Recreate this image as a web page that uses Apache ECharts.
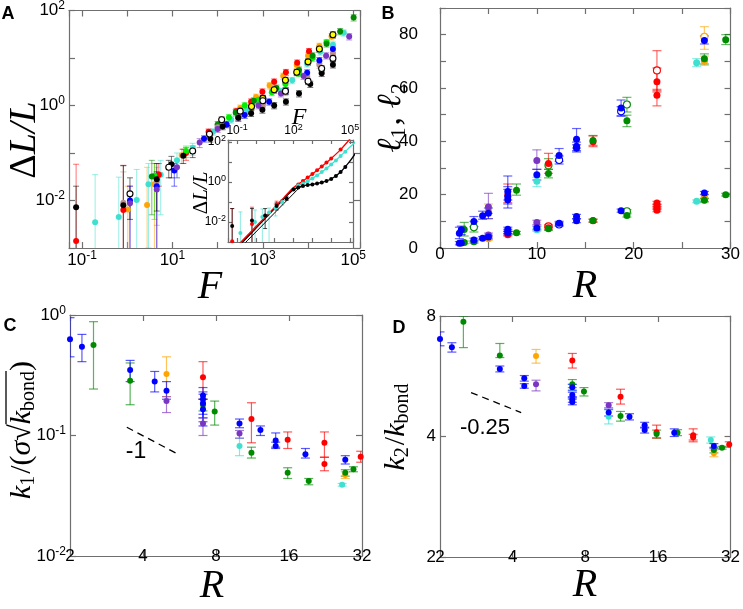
<!DOCTYPE html>
<html><head><meta charset="utf-8">
<script src="https://cdn.jsdelivr.net/npm/echarts@6/dist/echarts.min.js"></script>
<style>html,body{margin:0;padding:0;background:#fff}#c{width:743px;height:609px}</style>
</head><body><div id="c"></div>
<script>
// ---------------- Panel A (main): rows [F, dL/L, low, high] (low/high optional) ----------------
const aBlack = [[0.074,0.0072,1e-4,0.02],[0.82,0.0079,1e-4,0.054],[4.5,0.028,0.006,0.06],[9.5,0.058,0.03,0.085],[17.4,0.087,0.06,0.12],[69,0.2,0.17,0.24],[129,0.363],[288,0.55],[550,0.69],[977,0.81],[1780,1.0],[3240,1.2],[6310,1.78],[11200,2.82],[20000,4.79],[35500,7.24]];
const aOpen = [[1.15,0.0138,0.004,0.03],[8.3,0.05,0.03,0.07],[28,0.11,0.08,0.14],[66,0.25,0.21,0.29],[123,0.5],[316,0.76],[1000,1.26],[3160,2.0],[10000,3.24],[20000,6.0],[35500,9.8]];
const aRed = [[0.074,0.0014,1e-4,0.058],[0.82,0.0063,1e-4,0.055],[5,0.035,0.02,0.06],[20,0.1,0.07,0.13],[63,0.28,0.24,0.32],[257,0.76],[550,1.2],[977,1.95],[1780,3.16],[3240,5.0],[5750,7.9],[10500,13.8]];
const aOrange = [[1.03,0.0065,1e-4,0.02],[2.75,0.008,1e-4,0.05],[4.0,0.022,1e-4,0.06],[16,0.09,0.06,0.12],[120,0.45],[316,0.89],[708,1.51],[1410,2.63],[2820,4.17],[5620,7.08],[10000,11.2],[17800,17.8],[33100,28.2]];
const aYellow = [[562,0.95],[1000,1.41],[1780,2.14],[3160,3.39],[5620,5.0],[10000,8.3],[17800,15.5],[35500,30.9]];
const aLime = [[4.0,0.033,0.004,0.06],[20,0.11,0.08,0.14],[178,0.56],[398,1.0],[794,1.32],[1580,1.9],[3160,2.82],[6310,4.8],[12600,10],[25700,21.4]];
const aDkGreen = [[3.5,0.032,0.005,0.07],[100,0.4],[251,0.71],[631,1.26],[2000,2.34],[6310,5.6],[12600,11.2],[25700,20],[51300,36.3],[102000,70.8]];
const aTurq = [[0.195,0.0035,1e-4,0.035],[0.65,0.0045,1e-4,0.031],[1.62,0.0103,1e-4,0.045],[2.95,0.022,0.001,0.06],[5.5,0.035,0.005,0.07],[12.6,0.07,0.03,0.1],[28,0.126,0.09,0.16],[79,0.28],[200,0.5],[447,0.79],[1000,1.12],[2510,2.0],[4470,3.39],[9550,7.6],[18600,13.5],[35500,19],[61700,33.9]];
const aBlue = [[1.15,0.01,1e-4,0.02],[4.5,0.02,1e-4,0.04],[11,0.043,0.02,0.06],[50,0.2,0.17,0.23],[158,0.4],[398,0.63],[1380,1.2],[3240,2.04],[9550,4.9],[17800,8.9],[35500,15.5]];
const aRosy = [[0.82,0.009,1e-4,0.04],[4.5,0.025,0.003,0.05],[100,0.35],[316,0.63],[1000,1.05],[3160,1.9],[9550,4.0],[17800,7.1],[35500,12.3]];
const aPurple = [[1.15,0.0087,1e-4,0.02],[4.5,0.017,8e-4,0.04],[12.6,0.05,0.03,0.07],[40,0.166,0.13,0.2],[100,0.32],[282,0.56],[800,1.0],[2510,1.78],[7940,4.17],[25100,11.2],[81300,28.2]];
const aRelErr = 0.15;

// ---------------- Panel A inset ----------------
const iRedLine = [[0.1,0.00063],[10,0.055],[31.6,0.17],[100,0.525],[316,1.12],[1000,2.51],[3160,6.03],[10000,15.1],[31600,41.7],[89100,126],[120000,170]];
const iTurqLine = [[0.1,0.00056],[10,0.05],[31.6,0.158],[100,0.479],[316,0.832],[1000,1.51],[3160,3.16],[10000,7.59],[31600,20],[100000,56.2],[200000,105]];
const iBlackLine = [[0.1,0.0005],[10,0.048],[31.6,0.151],[100,0.417],[316,0.631],[1000,0.759],[3160,0.955],[10000,1.41],[31600,3.16],[100000,11.2],[200000,28.2]];
const iFitLine = [[0.1,0.00035],[300,0.75]];
const iRedPts = [[178,0.76],[316,1.12],[562,1.66],[1000,2.51],[1780,3.89],[3160,6.03],[5620,9.55],[10000,15.1],[31600,41.7]];
const iTurqPts = [[178,0.66],[316,0.832],[562,1.1],[1000,1.51],[1780,2.14],[3160,3.16],[5620,4.79],[10000,7.59],[17800,12],[31600,20],[56200,33]];
const iBlackPts = [[100,0.417],[178,0.537],[316,0.631],[562,0.708],[1000,0.759],[1780,0.851],[3160,0.955],[5620,1.12],[10000,1.41],[17800,2.0],[31600,3.16],[56200,5.62]];
const iLowBlack = [[0.055,0.0063,1e-4,0.047],[0.62,0.012,1e-4,0.047],[3.1,0.021,0.0047,0.047],[12.6,0.063,0.04,0.09],[42.7,0.148,0.12,0.18]];
const iLowRed = [[0.055,0.0011,1e-4,0.047],[0.62,0.008,1e-4,0.055],[12.6,0.075,0.05,0.11]];
const iLowTurq = [[0.15,0.0028,1e-4,0.032],[0.9,0.01,1e-4,0.04],[2.2,0.018,1e-4,0.045],[5,0.03,8e-4,0.05],[11,0.05,0.02,0.08],[25,0.1,0.07,0.13]];

// ---------------- Panel B: rows [R, l, low, high] ----------------
const bBlue = [[2.0,5.5,3.5,7.8],[2.2,6.8,5.0,8.2],[3.5,9.9,8.0,11.8],[4.4,12.1,10.8,13.8],[5.0,13.0,11.0,15.0],[7.0,21.2,18.0,27.0],[7.0,19.3,16.5,23.0],[7.0,18.1,15.0,22.0],[10.0,27.5,25.5,29.5],[12.3,34.7,32.5,37.3],[14.1,40.8,37.5,44.8],[14.1,38.2,36.5,39.7],[14.1,37.4,36.0,38.7],[18.7,52.5,49.5,55.5],[27.3,77.8,76.5,79.5],
  [2.0,1.8,1.2,2.4],[2.2,1.9,1.3,2.5],[3.5,3.0,2.3,3.7],[4.4,3.7,3.1,4.3],[5.0,4.1,3.4,4.8],[7.0,7.0,6.2,7.8],[7.0,6.2,5.4,7.0],[7.0,5.6,4.9,6.3],[10.0,7.5,6.8,8.2],[12.3,9.3,8.6,10.0],[14.1,11.8,11.0,12.6],[14.1,10.2,9.5,10.9],[18.7,14.0,13.4,14.6],[27.3,20.6,20.0,21.2]];
const bBlueOpen = [[12.3,33.0,31.5,34.5],[18.7,51.3,49.5,53.0],[12.3,8.8,8.2,9.4]];
const bPurple = [[5.0,15.4,13.0,20.5],[10.0,32.8,29.5,36.8],[5.0,4.9,4.2,5.6],[10.0,9.6,8.8,10.4]];
const bOrange = [[5.0,14.0,11.0,16.5],[27.3,70.0,68.5,72.0],[5.0,3.5,2.9,4.1],[27.3,19.4,18.8,20.2],[27.3,18.0,17.4,18.6]];
const bOrangeOpen = [[27.3,79.2,74.5,83.0]];
const bRed = [[7.0,19.9,17.0,24.0],[11.2,31.7,28.0,35.5],[15.8,39.8,38.0,42.0],[22.4,62.3,58.5,67.5],[22.4,57.3,53.3,59.5],[7.0,5.0,4.5,5.5],[11.2,7.6,7.0,8.2],[15.8,10.2,9.6,10.8],[22.4,16.9,16.3,17.5],[22.4,15.9,15.3,16.5],[22.4,15.0,14.4,15.6],[22.4,14.2,13.6,14.8]];
const bRedOpen = [[22.4,66.6,59.0,74.0],[11.2,8.1,7.5,8.7]];
const bGreen = [[2.5,6.9,4.5,9.6],[7.9,21.7,19.8,24.0],[11.2,27.9,26.3,29.5],[15.8,40.3,38.5,42.2],[19.3,47.7,45.5,49.8],[27.3,71.0,69.0,72.8],[29.5,78.1,76.3,80.0],[2.5,2.1,1.6,2.6],[3.5,2.3,1.8,2.8],[7.9,5.7,5.2,6.2],[11.2,7.2,6.6,7.8],[15.8,10.3,9.8,10.8],[19.3,12.2,11.6,12.8],[27.3,17.9,17.3,18.5],[29.5,20.0,19.5,20.5]];
const bGreenOpen = [[3.5,7.8,6.0,10.0],[11.2,31.0,29.5,33.5],[19.3,53.8,51.0,56.5],[19.3,13.8,13.2,14.4]];
const bTurq = [[10.0,25.0,23.0,26.5],[26.5,69.5,68.0,71.0],[10.0,6.8,6.2,7.4],[26.5,17.5,17.0,18.0]];

// ---------------- Panel C: rows [R, k1, low, high] ----------------
const cBlue = [[2.0,0.63,0.45,0.95],[2.24,0.546,0.41,0.69],[3.54,0.35,0.28,0.42],[4.47,0.28,0.23,0.34],[5.0,0.235,0.2,0.28],[7.07,0.215,0.15,0.25],[7.07,0.2,0.14,0.23],[7.07,0.185,0.13,0.22],[7.07,0.165,0.12,0.2],[10.0,0.126,0.116,0.137],[12.2,0.111,0.1,0.12],[14.1,0.091,0.08,0.105],[14.1,0.082,0.078,0.088],[18.7,0.07,0.065,0.078],[27.3,0.063,0.058,0.068]];
const cGreen = [[2.5,0.564,0.243,0.88],[3.54,0.285,0.18,0.4],[7.07,0.18,0.16,0.2],[7.9,0.158,0.122,0.193],[11.2,0.072,0.065,0.08],[15.8,0.049,0.044,0.054],[19.3,0.042,0.039,0.044],[27.3,0.049,0.046,0.052],[29.5,0.0524,0.05,0.055]];
const cOrange = [[5.0,0.324,0.21,0.45],[27.3,0.047,0.044,0.05]];
const cPurple = [[5.0,0.193,0.155,0.21],[7.07,0.126,0.1,0.14],[10.0,0.104,0.095,0.11]];
const cRed = [[7.07,0.304,0.2,0.41],[11.2,0.137,0.087,0.187],[15.8,0.092,0.078,0.107],[22.4,0.087,0.066,0.107],[22.4,0.058,0.051,0.066],[31.6,0.0667,0.06,0.074]];
const cTurq = [[10.0,0.082,0.068,0.095],[26.5,0.039,0.038,0.04]];
const cSlope = [[3.43,0.117],[5.58,0.070]];

// ---------------- Panel D: rows [R, k2, low, high] ----------------
const dBlue = [[2.0,7.01,6.74,7.3],[2.24,6.68,6.5,6.86],[3.54,5.9,5.8,6.0],[4.47,5.59,5.5,5.68],[4.47,5.35,5.28,5.42],[7.07,5.31,5.22,5.4],[7.07,5.08,5.0,5.16],[7.07,4.95,4.87,5.03],[7.07,4.88,4.8,4.96],[10.0,4.59,4.5,4.68],[12.2,4.48,4.4,4.56],[14.1,4.27,4.2,4.34],[14.1,4.15,4.08,4.22],[18.7,4.09,4.0,4.18],[27.3,3.79,3.74,3.84]];
const dGreen = [[2.5,7.74,6.67,8.0],[3.54,6.37,6.3,6.83],[7.07,5.4,5.3,5.55],[7.9,5.18,5.05,5.3],[11.2,4.5,4.37,4.62],[15.8,4.06,3.97,4.15],[19.3,4.09,4.02,4.16],[27.3,3.7,3.64,3.76],[29.5,3.75,3.72,3.78]];
const dOrange = [[5.0,6.36,6.1,6.6],[27.3,3.63,3.56,3.7]];
const dPurple = [[5.0,5.4,5.2,5.53],[10.0,4.79,4.72,4.86]];
const dRed = [[7.07,6.19,5.93,6.45],[11.2,5.03,4.82,5.25],[15.8,4.1,3.96,4.27],[22.4,4.03,3.88,4.18],[22.4,3.98,3.92,4.05],[31.6,3.82,3.76,3.88]];
const dTurq = [[7.07,5.3,5.2,5.4],[10.0,4.48,4.3,4.66],[26.5,3.92,3.85,3.99]];
const dSlope = [[2.69,5.15],[4.34,4.59]];

// ---------------- styling ----------------
const SANS = '"Liberation Sans", Arial, Helvetica, sans-serif';
const SERIF = '"Liberation Serif", "Times New Roman", serif';
const DSERIF = '"DejaVu Serif", serif';
const FRAME = '#6f6f6f';
const C = { red:'#ff0000', orange:'#ffa500', yellow:'#ffff00', lime:'#00ee00', dkgreen:'#008a00', turq:'#40e0d0', blue:'#0000ff', purple:'#7a36c2', rosy:'#bc8f8f', black:'#000000' };
function rgba(hex, a) { const n = parseInt(hex.slice(1), 16); return 'rgba(' + (n >> 16 & 255) + ',' + (n >> 8 & 255) + ',' + (n & 255) + ',' + a + ')'; }

const RICH17 = { b: { fontSize: 17, fontFamily: SANS, color: '#000' }, s: { fontSize: 12, fontFamily: SANS, color: '#000', padding: [0, 0, 9, 0] } };
const RICH12 = { b: { fontSize: 12, fontFamily: SANS, color: '#000' }, s: { fontSize: 9, fontFamily: SANS, color: '#000', padding: [0, 0, 6, 0] } };

function powFmt(okFn) {
  return function (v) {
    const l = Math.log10(v), e = Math.round(l);
    if (Math.abs(l - e) > 1e-6 || !okFn(e)) return '';
    return '{b|10}{s|' + e + '}';
  };
}
const LINE = { show: true, onZero: false, lineStyle: { color: FRAME, width: 1.2 } };
function ticks(len) { return { show: true, inside: true, length: len, lineStyle: { color: FRAME, width: 1.2 } }; }
function ax(gi, pos, type, min, max, o) {
  o = o || {};
  const a = { gridIndex: gi, position: pos, type: type, min: min, max: max, axisLine: LINE, axisTick: ticks(o.tick || 6), splitLine: { show: false }, minorTick: { show: false } };
  if (type === 'log') a.logBase = o.base || 10;
  if (o.interval) a.interval = o.interval;
  if (o.fmt) a.axisLabel = { show: true, formatter: o.fmt, margin: o.margin == null ? 4 : o.margin, rich: o.rich || RICH17, fontSize: o.fs || 17, fontFamily: SANS, color: '#000', showMinLabel: true, showMaxLabel: true, hideOverlap: false };
  else a.axisLabel = { show: false };
  return a;
}

const A_X = [0.0515, 141000], A_Y = [0.001, 100];
const I_X = [0.033, 144000], I_Y = [0.001, 126];
const xAxis = [
  ax(0, 'bottom', 'log', A_X[0], A_X[1], { fmt: powFmt(e => ((e % 2) + 2) % 2 === 1), margin: 2 }),
  ax(0, 'top', 'log', A_X[0], A_X[1]),
  ax(1, 'top', 'log', I_X[0], I_X[1], { fmt: powFmt(e => e === -1 || e === 2 || e === 5), rich: RICH12, fs: 12, margin: 2, tick: 4 }),
  ax(1, 'bottom', 'log', I_X[0], I_X[1], { tick: 4 }),
  ax(2, 'bottom', 'value', 0, 30, { interval: 5, fmt: v => (v % 10 === 0 ? String(v) : ''), margin: -2 }),
  ax(2, 'top', 'value', 0, 30, { interval: 5 }),
  ax(3, 'bottom', 'log', 2, 32, { base: 2, fmt: v => String(Math.round(v)), margin: -8 }),
  ax(3, 'top', 'log', 2, 32, { base: 2 }),
  ax(4, 'bottom', 'log', 2, 32, { base: 2, fmt: v => String(Math.round(v)), margin: -8 }),
  ax(4, 'top', 'log', 2, 32, { base: 2 })
];
const yAxis = [
  ax(0, 'left', 'log', A_Y[0], A_Y[1], { fmt: powFmt(e => e % 2 === 0), margin: 4 }),
  ax(0, 'right', 'log', A_Y[0], A_Y[1]),
  ax(1, 'left', 'log', I_Y[0], I_Y[1], { fmt: powFmt(e => e % 2 === 0), rich: RICH12, fs: 12, margin: 2, tick: 4 }),
  ax(1, 'right', 'log', I_Y[0], I_Y[1], { tick: 4 }),
  ax(2, 'left', 'value', 0, 90, { interval: 10, fmt: v => (v % 20 === 0 ? String(v) : ''), margin: 22 }),
  ax(2, 'right', 'value', 0, 90, { interval: 10 }),
  ax(3, 'left', 'log', 0.01, 1, { fmt: powFmt(e => true), margin: 4 }),
  ax(3, 'right', 'log', 0.01, 1),
  ax(4, 'left', 'log', 2, 8, { base: 2, fmt: v => String(Math.round(v)), margin: 4 }),
  ax(4, 'right', 'log', 2, 8, { base: 2 })
];

// ---------------- series builders ----------------
const series = [];
function barRows(rows, rel) { return rows.map(r => r.length >= 4 ? [r[0], r[2], r[3]] : [r[0], r[1] * (1 - rel), r[1] * (1 + rel)]); }
function errBars(rows, ai, color, cap, lw) {
  return {
    type: 'custom', xAxisIndex: ai[0], yAxisIndex: ai[1], clip: true, silent: true, z: 2,
    data: rows, encode: { x: 0, y: [1, 2] },
    renderItem: function (params, api) {
      const x = api.value(0), lo = api.value(1), hi = api.value(2);
      const a = api.coord([x, lo]), b = api.coord([x, hi]);
      const st = { stroke: color, lineWidth: lw, fill: null };
      const h = cap / 2;
      return { type: 'group', children: [
        { type: 'line', shape: { x1: a[0], y1: a[1], x2: b[0], y2: b[1] }, style: st },
        { type: 'line', shape: { x1: a[0] - h, y1: a[1], x2: a[0] + h, y2: a[1] }, style: st },
        { type: 'line', shape: { x1: b[0] - h, y1: b[1], x2: b[0] + h, y2: b[1] }, style: st }
      ] };
    }
  };
}
function dots(rows, ai, fill, stroke, size) {
  return { type: 'scatter', xAxisIndex: ai[0], yAxisIndex: ai[1], silent: true, z: 3, clip: false,
    data: rows.map(r => [r[0], r[1]]), symbol: 'circle', symbolSize: size,
    itemStyle: { color: fill, borderColor: stroke || fill, borderWidth: stroke ? 1.1 : 0, opacity: 1 } };
}
function addSet(rows, ai, color, o) {
  o = o || {};
  series.push(errBars(barRows(rows, o.rel || 0), ai, o.bar || rgba(color, o.alpha || 0.6), o.cap || 7, o.lw || 1));
  series.push(dots(rows, ai, o.fill || color, o.stroke, o.size || 6));
}
function addLine(rows, ai, color, w, dash) {
  series.push({ type: 'line', xAxisIndex: ai[0], yAxisIndex: ai[1], data: rows, symbol: 'none', smooth: dash ? false : 0.3, clip: true, silent: true, z: 2,
    lineStyle: { color: color, width: w, type: dash || 'solid' } });
}

// Panel A main
const AA = [0, 0];
const aOpt = { rel: aRelErr, cap: 6, lw: 1, alpha: 0.55, size: 6 };
addSet(aTurq, AA, C.turq, aOpt);
addSet(aOrange, AA, C.orange, aOpt);
addSet(aRed, AA, C.red, aOpt);
addSet(aLime, AA, C.lime, aOpt);
addSet(aDkGreen, AA, C.dkgreen, aOpt);
addSet(aRosy, AA, C.rosy, aOpt);
addSet(aBlue, AA, C.blue, aOpt);
addSet(aPurple, AA, C.purple, aOpt);
addSet(aBlack, AA, C.black, aOpt);
addSet(aYellow, AA, C.yellow, Object.assign({}, aOpt, { stroke: '#000', bar: 'rgba(0,0,0,0.6)' }));
addSet(aOpen, AA, C.black, Object.assign({}, aOpt, { fill: '#fff', stroke: '#000', size: 6 }));

// Inset
const AI = [2, 2];
addSet(iLowTurq, AI, C.turq, { cap: 4, lw: 1, alpha: 0.6, size: 4 });
addSet(iLowRed, AI, C.red, { cap: 4, lw: 1, alpha: 0.6, size: 4 });
addSet(iLowBlack, AI, C.black, { cap: 4, lw: 1, alpha: 0.7, size: 4 });
addLine(iFitLine, AI, '#000', 1);
addLine(iTurqLine, AI, C.turq, 1.3);
addLine(iBlackLine, AI, '#000', 1.3);
addLine(iRedLine, AI, C.red, 1.3);
series.push(dots(iRedPts, AI, C.red, null, 4));
series.push(dots(iTurqPts, AI, C.turq, null, 4));
series.push(dots(iBlackPts, AI, '#000', null, 4));

// Panel B
const AB = [4, 4];
const bOpt = { cap: 9, lw: 1.2, alpha: 0.6, size: 7 };
addSet(bTurq, AB, C.turq, bOpt);
addSet(bOrange, AB, C.orange, bOpt);
addSet(bOrangeOpen, AB, C.orange, Object.assign({}, bOpt, { fill: '#fff', stroke: C.orange }));
addSet(bRedOpen, AB, C.red, Object.assign({}, bOpt, { fill: '#fff', stroke: C.red }));
addSet(bGreenOpen, AB, C.dkgreen, Object.assign({}, bOpt, { fill: '#fff', stroke: C.dkgreen }));
addSet(bBlueOpen, AB, C.blue, Object.assign({}, bOpt, { fill: '#fff', stroke: C.blue }));
addSet(bPurple, AB, C.purple, bOpt);
addSet(bRed, AB, C.red, bOpt);
addSet(bGreen, AB, C.dkgreen, bOpt);
addSet(bBlue, AB, C.blue, bOpt);

// Panel C
const AC = [6, 6];
const cOpt = { cap: 9, lw: 1.2, alpha: 0.65, size: 6 };
addSet(cTurq, AC, C.turq, cOpt);
addSet(cOrange, AC, C.orange, cOpt);
addSet(cRed, AC, C.red, cOpt);
addSet(cGreen, AC, C.dkgreen, cOpt);
addSet(cBlue, AC, C.blue, cOpt);
addSet(cPurple, AC, C.purple, cOpt);
addLine(cSlope, AC, '#000', 1.3, [7, 5]);

// Panel D
const AD = [8, 8];
addSet(dTurq, AD, C.turq, cOpt);
addSet(dOrange, AD, C.orange, cOpt);
addSet(dRed, AD, C.red, cOpt);
addSet(dGreen, AD, C.dkgreen, cOpt);
addSet(dBlue, AD, C.blue, cOpt);
addSet(dPurple, AD, C.purple, cOpt);
addLine(dSlope, AD, '#000', 1.3, [7, 5]);

// ---------------- text (titles, panel letters) ----------------
const mctx = document.createElement('canvas').getContext('2d');
function mtext(cx, cy, rot, pieces, over) {
  let x = 0; const kids = [], pos = [];
  pieces.forEach(p => {
    const fam = p.f || SERIF, st = p.it ? 'italic' : 'normal';
    mctx.font = st + ' ' + p.s + 'px ' + fam;
    const w = mctx.measureText(p.t).width;
    pos.push([x, w]);
    kids.push({ type: 'text', x: x, y: p.dy || 0, style: { text: p.t, fontFamily: fam, fontSize: p.s, fontStyle: st, fill: '#000', align: 'left', verticalAlign: 'middle' } });
    x += w + (p.gap || 0);
  });
  const W = x;
  kids.forEach(k => { k.x -= W / 2; });
  if (over) {
    kids.push({ type: 'line', shape: { x1: pos[over[0]][0] - W / 2 + (over[3] || 0), y1: over[2], x2: pos[over[1]][0] + pos[over[1]][1] - W / 2, y2: over[2] }, style: { stroke: '#000', lineWidth: 1.3 } });
  }
  return { type: 'group', x: cx, y: cy, rotation: rot, children: kids, z: 100 };
}
function label(x, y, t, size, o) {
  o = o || {};
  return { type: 'text', x: x, y: y, z: 100, style: { text: t, fontFamily: o.f || SANS, fontSize: size, fontWeight: o.bold ? 'bold' : 'normal', fontStyle: o.it ? 'italic' : 'normal', fill: '#000', align: 'center', verticalAlign: 'middle' } };
}
const R90 = Math.PI / 2;
const graphic = [
  label(8, 14, 'A', 18, { bold: true }),
  label(388, 14, 'B', 18, { bold: true }),
  label(10, 326, 'C', 18, { bold: true }),
  label(399, 328, 'D', 18, { bold: true }),
  mtext(25, 140, R90, [{ t: 'Δ', s: 38 }, { t: 'L/L', s: 38, it: true }]),
  label(210, 287, 'F', 40, { f: SERIF, it: true }),
  mtext(201, 193, R90, [{ t: 'Δ', s: 21 }, { t: 'L/L', s: 21, it: true }]),
  label(299, 118, 'F', 24, { f: SERIF, it: true }),
  mtext(391, 118, R90, [{ t: 'ℓ', s: 34, it: true, f: DSERIF }, { t: '1', s: 22, dy: 8, gap: 2 }, { t: ', ', s: 34 }, { t: 'ℓ', s: 34, it: true, f: DSERIF }, { t: '2', s: 22, dy: 8 }]),
  label(585, 286, 'R', 40, { f: SERIF, it: true }),
  mtext(22, 430, R90, [{ t: 'k', s: 30, it: true }, { t: '1', s: 20, dy: 7, gap: 2 }, { t: '/(', s: 30 }, { t: 'σ', s: 30, it: true }, { t: '√', s: 30 }, { t: 'k', s: 30, it: true }, { t: 'bond', s: 20, dy: 7 }, { t: ')', s: 30 }], [5, 6, -16]),
  label(212, 586, 'R', 40, { f: SERIF, it: true }),
  mtext(396, 427, R90, [{ t: 'k', s: 30, it: true }, { t: '2', s: 20, dy: 7, gap: 2 }, { t: '/', s: 30 }, { t: 'k', s: 30, it: true }, { t: 'bond', s: 20, dy: 7 }]),
  label(585, 585, 'R', 40, { f: SERIF, it: true }),
  label(136, 452, '-1', 23),
  label(485, 428, '-0.25', 22)
];

const chart = echarts.init(document.getElementById('c'), null, { renderer: 'canvas' });
chart.setOption({
  animation: false,
  backgroundColor: '#fff',
  grid: [
    { left: 69, top: 8, width: 291, height: 240 },
    { left: 228, top: 140, width: 125, height: 102, show: true, backgroundColor: '#fff', borderWidth: 0 },
    { left: 440, top: 8, width: 295, height: 240 },
    { left: 70, top: 315, width: 292, height: 241 },
    { left: 440, top: 316, width: 291, height: 241 }
  ],
  xAxis: xAxis,
  yAxis: yAxis,
  series: series,
  graphic: graphic
});
</script></body></html>
